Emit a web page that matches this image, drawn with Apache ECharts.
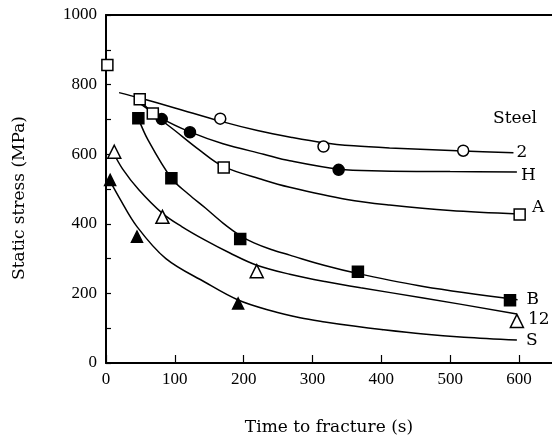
<!DOCTYPE html>
<html>
<head>
<meta charset="utf-8">
<script src="https://cdn.jsdelivr.net/npm/echarts@6/dist/echarts.min.js"></script>
<style>
  html, body { margin: 0; padding: 0; background: #fff; }
  #chart { width: 552px; height: 447px; }
</style>
</head>
<body>
<div id="chart"></div>
<script>
// measured points (time s, stress MPa)
var steel2Pts  = [[166, 702], [316, 622], [519, 610]];
var steelHPts  = [[81, 701], [122, 663], [338, 555]];
var steelAPts  = [[2, 856], [49, 758], [68, 717], [171, 562], [601, 427]];
var steelBPts  = [[47, 703], [95, 531], [195, 356], [366, 262], [587, 180]];
var steel12Pts = [[12, 607], [82, 420], [219, 264], [597, 121]];
var steelSPts  = [[6, 526], [45, 363], [192, 171]];

// fitted curves
var curve2  = [[19, 777], [48, 762], [100, 733], [166, 695], [220, 668], [270, 648], [315, 633], [360, 624], [412, 618], [519, 609], [592, 604]];
var curveH  = [[41, 758], [81, 703], [122, 664], [170, 630], [229, 600], [267, 581], [338, 557], [400, 552], [500, 550], [597, 549]];
var curveA  = [[48, 758], [68, 718], [100, 668], [135, 613], [170, 565], [229, 526], [267, 505], [350, 470], [412, 454], [500, 438], [600, 428]];
var curveB  = [[47, 703], [61, 641], [95, 531], [120, 485], [144, 446], [170, 402], [195, 366], [215, 345], [240, 326], [267, 310], [318, 280], [366, 257], [461, 220], [598, 182]];
var curve12 = [[10, 607], [24, 558], [48, 497], [82, 430], [110, 392], [144, 353], [180, 316], [219, 281], [267, 255], [318, 234], [370, 216], [461, 187], [597, 141]];
var curveS  = [[5, 526], [19, 476], [45, 392], [87, 300], [144, 232], [192, 181], [240, 150], [282, 130], [318, 118], [360, 106], [400, 96], [461, 83], [520, 74], [597, 66]];

var steelNames = ['2', 'H', 'A', 'B', '12', 'S'];
var xTicks = [0, 100, 200, 300, 400, 500, 600];
var yTicks = [0, 200, 400, 600, 800, 1000];

var serif = 'DejaVu Serif';
var tickFont = 'Liberation Serif';

function curve(name, data, dist, off) {
    return {
        name: name,
        type: 'line',
        data: data,
        smooth: 0.35,
        showSymbol: false,
        symbol: 'none',
        lineStyle: { color: '#000', width: 1.5 },
        endLabel: {
            show: true,
            formatter: name,
            distance: dist,
            offset: off,
            color: '#000',
            fontFamily: serif,
            fontSize: 17
        },
        z: 2
    };
}

function points(data, symbol, size, filled) {
    return {
        type: 'scatter',
        data: data,
        symbol: symbol,
        symbolSize: size,
        itemStyle: {
            color: filled ? '#000' : '#fff',
            borderColor: '#000',
            borderWidth: 1.5,
            opacity: 1
        },
        z: 5
    };
}

var option = {
    animation: false,
    backgroundColor: '#fff',
    grid: { left: 106, right: 0, top: 15, bottom: 84 },
    xAxis: [
        {
            type: 'value',
            min: 0,
            max: 648,
            interval: 100,
            name: 'Time to fracture (s)',
            nameLocation: 'middle',
            nameGap: 56,
            nameTextStyle: { color: '#000', fontFamily: serif, fontSize: 17 },
            axisLine: { lineStyle: { color: '#000', width: 2 } },
            axisTick: { inside: true, length: 8, lineStyle: { color: '#000', width: 1.2 } },
            axisLabel: {
                color: '#000', fontFamily: tickFont, fontSize: 17, margin: 8,
                showMaxLabel: false,
                formatter: function (v) { return xTicks.indexOf(v) >= 0 ? String(v) : ''; }
            },
            splitLine: { show: false }
        },
        {
            type: 'value',
            position: 'top',
            min: 0,
            max: 648,
            axisLine: { show: true, onZero: false, lineStyle: { color: '#000', width: 2 } },
            axisTick: { show: false },
            axisLabel: { show: false },
            splitLine: { show: false }
        }
    ],
    yAxis: {
        type: 'value',
        min: 0,
        max: 1000,
        interval: 200,
        name: 'Static stress (MPa)',
        nameLocation: 'middle',
        nameGap: 78,
        nameTextStyle: { color: '#000', fontFamily: serif, fontSize: 17, padding: [0, 18, 0, 0] },
        axisLine: { show: true, lineStyle: { color: '#000', width: 2 } },
        axisTick: { inside: true, length: 5, lineStyle: { color: '#000', width: 1.2 } },
        minorTick: { show: true, splitNumber: 2, length: 5, lineStyle: { color: '#000', width: 1.2 } },
        axisLabel: {
            color: '#000', fontFamily: tickFont, fontSize: 17, margin: 9,
            formatter: function (v) { return yTicks.indexOf(v) >= 0 ? String(v) : ''; }
        },
        splitLine: { show: false }
    },
    graphic: [
        {
            type: 'text',
            left: 493,
            top: 110,
            style: { text: 'Steel', fill: '#000', font: '17px "DejaVu Serif"' }
        }
    ],
    series: [
        curve(steelNames[0], curve2, 3, [0, 0]),
        curve(steelNames[1], curveH, 4, [0, 4]),
        curve(steelNames[2], curveA, 13, [0, -6]),
        curve(steelNames[3], curveB, 9, [0, 0]),
        curve(steelNames[4], curve12, 11, [0, 6]),
        curve(steelNames[5], curveS, 9, [0, 1]),
        points(steel2Pts, 'circle', 11, false),
        points(steelHPts, 'circle', 11, true),
        points(steelAPts, 'rect', 11, false),
        points(steelBPts, 'rect', 11, true),
        points(steel12Pts, 'triangle', 13, false),
        points(steelSPts, 'triangle', 11, true)
    ]
};

var myChart = echarts.init(document.getElementById('chart'));
myChart.setOption(option);
</script>
</body>
</html>
